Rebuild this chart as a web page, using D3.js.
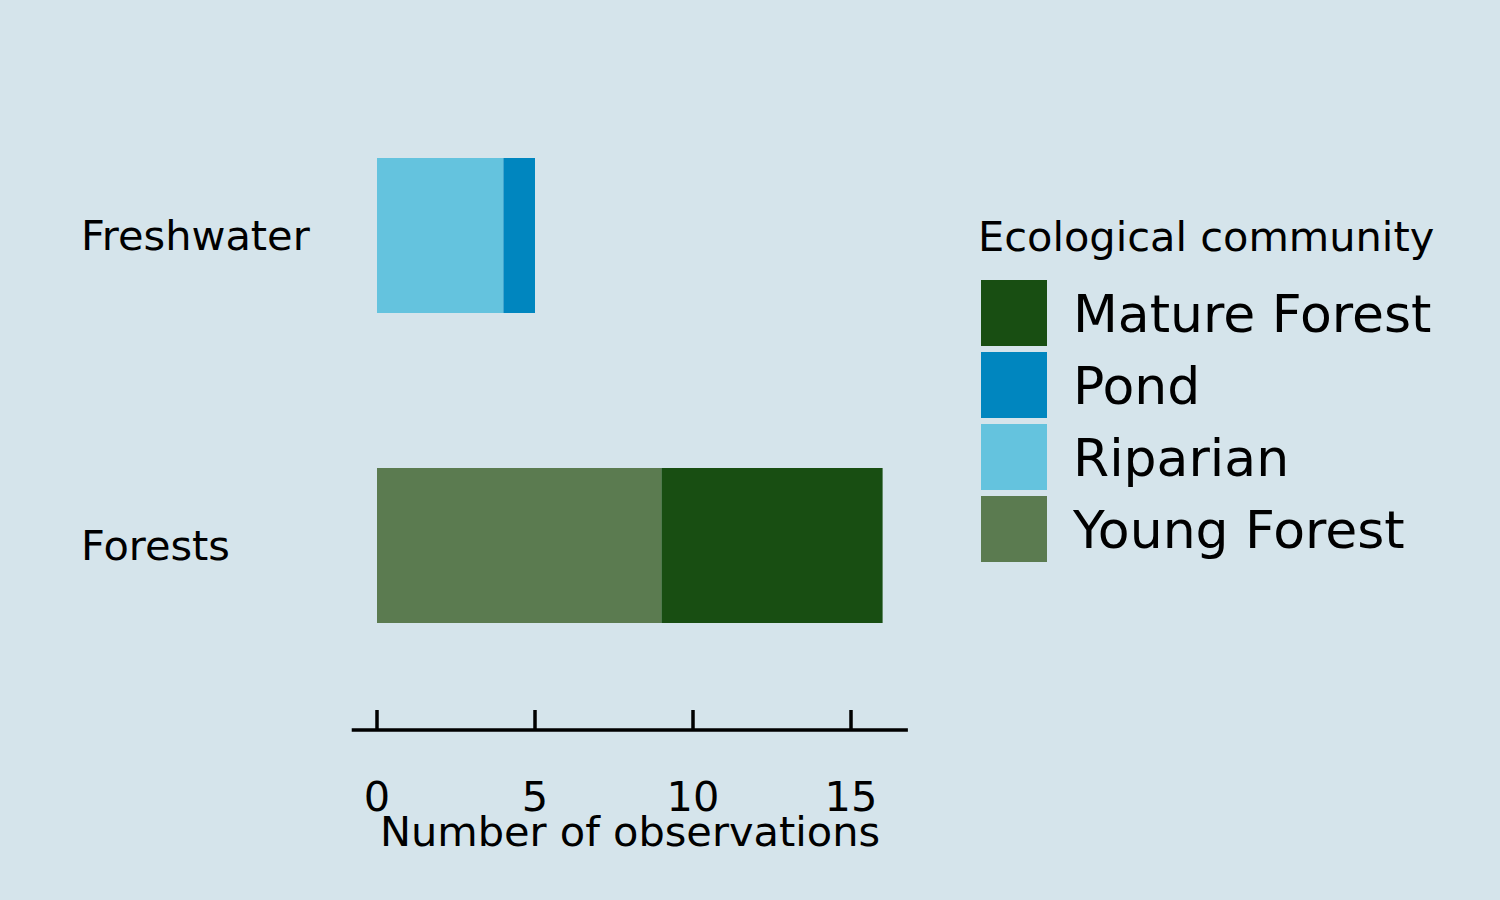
<!DOCTYPE html>
<html>
<head>
<meta charset="utf-8"/>
<script src="https://d3js.org/d3.v7.min.js"></script>
<style>
  body { margin: 0; background: #d5e4eb; }
  text { font-family: "DejaVu Sans", sans-serif; fill: #000; }
</style>
</head>
<body>
<svg id="chart" width="1500" height="900"></svg>
<script>
var groups = ['Freshwater', 'Forests'];
var communities = ['Mature Forest', 'Pond', 'Riparian', 'Young Forest'];
var colors = ['#184e12', '#0086bf', '#64c3de', '#5b7b50'];
// stacking order within each bar, left to right
var stacks = [
  [['Riparian', 4], ['Pond', 1]],
  [['Young Forest', 9], ['Mature Forest', 7]]
];
var ticks = [0, 5, 10, 15];

var svg = d3.select('#chart');
svg.append('rect').attr('width', 1500).attr('height', 900).attr('fill', '#d5e4eb');

var x = d3.scaleLinear().domain([0, 15]).range([377, 851]);
var bandH = 155;
var color = d3.scaleOrdinal().domain(communities).range(colors);

groups.forEach(function(g, i) {
  var y0 = i == 0 ? 158 : 468;
  var acc = 0;
  stacks[i].forEach(function(s) {
    svg.append('rect')
      .attr('x', x(acc)).attr('y', y0)
      .attr('width', x(acc + s[1]) - x(acc)).attr('height', bandH)
      .attr('fill', color(s[0]));
    acc += s[1];
  });
  svg.append('text').attr('x', 81).attr('y', y0 + bandH / 2 + 14)
    .attr('font-size', 41.5).text(g);
});

// axis
svg.append('line').attr('x1', x(-0.8)).attr('x2', x(16.8))
  .attr('y1', 730).attr('y2', 730).attr('stroke', '#000').attr('stroke-width', 3.5);
ticks.forEach(function(t) {
  svg.append('line').attr('x1', x(t)).attr('x2', x(t))
    .attr('y1', 710).attr('y2', 730).attr('stroke', '#000').attr('stroke-width', 3.5);
  svg.append('text').attr('x', x(t)).attr('y', 811).attr('text-anchor', 'middle')
    .attr('font-size', 41.5).text(t);
});
svg.append('text').attr('x', 630).attr('y', 846).attr('text-anchor', 'middle')
  .attr('font-size', 41.5).text('Number of observations');

// legend
svg.append('text').attr('x', 978).attr('y', 251).attr('font-size', 41.5).text('Ecological community');
communities.forEach(function(c, i) {
  svg.append('rect').attr('x', 981).attr('y', 280 + i * 72)
    .attr('width', 66).attr('height', 66).attr('fill', color(c));
  svg.append('text').attr('x', 1073).attr('y', 332 + i * 72)
    .attr('font-size', 52).text(c);
});
</script>
</body>
</html>
